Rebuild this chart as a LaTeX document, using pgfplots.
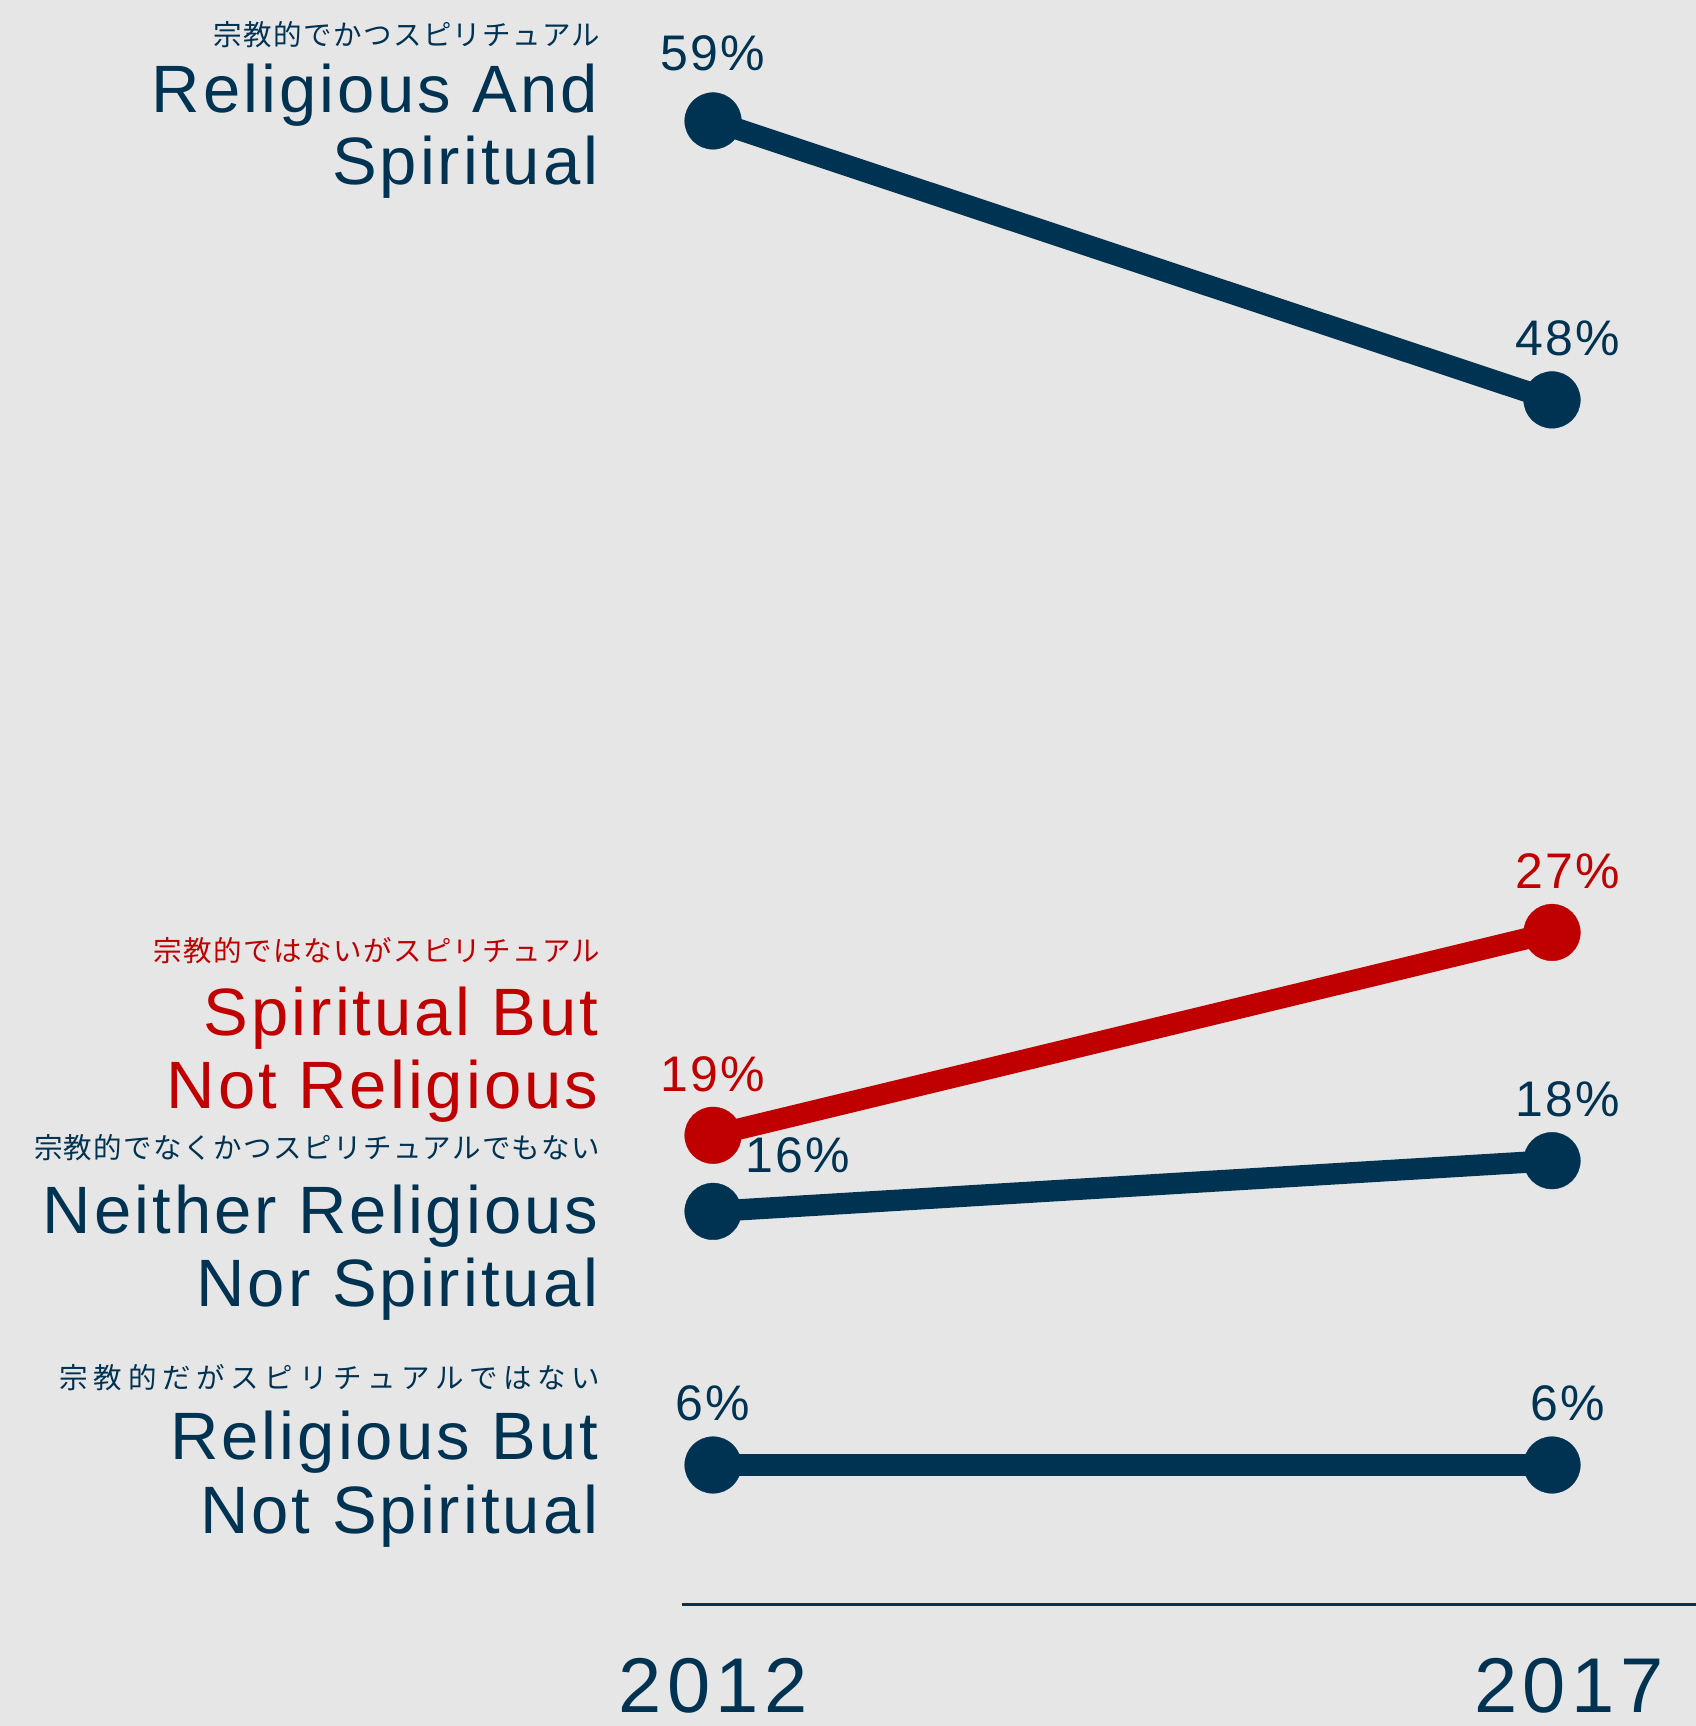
\documentclass[border=0pt]{standalone}
\usepackage{fontspec}
\usepackage{pgfplots}
\pgfplotsset{compat=1.18}
\usetikzlibrary{calc,backgrounds}
\setmainfont{Liberation Sans}[LetterSpace=4.5]
\newfontfamily\yearfont{Liberation Sans}[LetterSpace=7]
\newfontfamily\jp{Noto Sans CJK JP}[LetterSpace=5]
\newfontfamily\jpwide{Noto Sans CJK JP}[LetterSpace=20]
\definecolor{navy}{HTML}{003252}
\definecolor{brick}{HTML}{C00000}
\definecolor{bg}{HTML}{E6E6E6}
\begin{document}
\begin{tikzpicture}[
    pct/.style={anchor=base, inner sep=0pt, font=\fontsize{15pt}{15pt}\selectfont},
    big/.style={anchor=base east, inner sep=0pt, font=\fontsize{20.1pt}{22pt}\selectfont},
    small/.style={anchor=east, inner sep=0pt, font=\jp\fontsize{8.55pt}{9pt}\selectfont},
  ]
  \begin{axis}[
      scale only axis,
      width=304.2pt, height=481.5pt,
      xmin=2011.815, xmax=2017.858,
      ymin=0.48, ymax=63.77,
      axis y line=none,
      axis x line=bottom,
      x axis line style={-, draw=navy, line width=0.9pt},
      xtick={2012,2017.1},
      xticklabels={2012,2017},
      major tick length=0pt,
      xticklabel style={anchor=base, yshift=-32.2pt, inner sep=0pt, text=navy,
        font=\yearfont\fontsize{23.3pt}{23.3pt}\selectfont},
      clip=false,
      every axis plot/.append style={line width=6.4pt, mark=*, mark size=8.5pt,
        mark options={line width=0.1pt}},
    ]
    \addplot[navy] coordinates {(2012,59) (2017,48)};
    \addplot[brick] coordinates {(2012,19) (2017,27)};
    \addplot[navy] coordinates {(2012,16) (2017,18)};
    \addplot[navy] coordinates {(2012,6) (2017,6)};

    \node[pct, text=navy, yshift=15pt] at (axis cs:2012,59) {59\%};
    \node[pct, text=navy, yshift=13.2pt, xshift=4.8pt] at (axis cs:2017,48) {48\%};
    \node[pct, text=brick, yshift=13.2pt] at (axis cs:2012,19) {19\%};
    \node[pct, text=brick, yshift=13.2pt, xshift=4.8pt] at (axis cs:2017,27) {27\%};
    % moved right a little so that it clears the red dot
    \node[pct, text=navy, yshift=11.7pt, xshift=25.5pt] at (axis cs:2012,16) {16\%};
    \node[pct, text=navy, yshift=13.2pt, xshift=4.8pt] at (axis cs:2017,18) {18\%};
    \node[pct, text=navy, yshift=13.2pt] at (axis cs:2012,6) {6\%};
    \node[pct, text=navy, yshift=13.2pt, xshift=4.8pt] at (axis cs:2017,6) {6\%};

    \coordinate (sw) at (rel axis cs:0,0);
  \end{axis}

  % labels on the left, placed in pixel units from the top-left corner
  \begin{scope}[shift={($(sw)+(-204.6pt,481.5pt)$)}, x=0.3pt, y=-0.3pt]
    \coordinate (TL) at (0,0);
    \coordinate (BR) at (1696,1726);
    \begin{scope}[on background layer]
      \fill[bg] (0,0) rectangle (1696,1726);
    \end{scope}

    \node[small, text=navy] at (601,35) {宗教的でかつスピリチュアル};
    \node[big, text=navy] at (599,113) {Religious And};
    \node[big, text=navy] at (599,185) {Spiritual};

    \node[small, text=brick] at (601,951) {宗教的ではないがスピリチュアル};
    \node[big, text=brick] at (599,1036) {Spiritual But};
    \node[big, text=brick] at (599,1109) {Not Religious};

    \node[small, text=navy] at (601,1148) {宗教的でなくかつスピリチュアルでもない};
    \node[big, text=navy] at (599,1234) {Neither Religious};
    \node[big, text=navy] at (599,1307) {Nor Spiritual};

    \node[small, text=navy, font=\jpwide\fontsize{8.55pt}{9pt}\selectfont] at (601,1378) {宗教的だがスピリチュアルではない};
    \node[big, text=navy] at (599,1460) {Religious But};
    \node[big, text=navy] at (599,1534) {Not Spiritual};
  \end{scope}

  \pgfresetboundingbox
  \path[use as bounding box] (TL) rectangle (BR);
\end{tikzpicture}
\end{document}
